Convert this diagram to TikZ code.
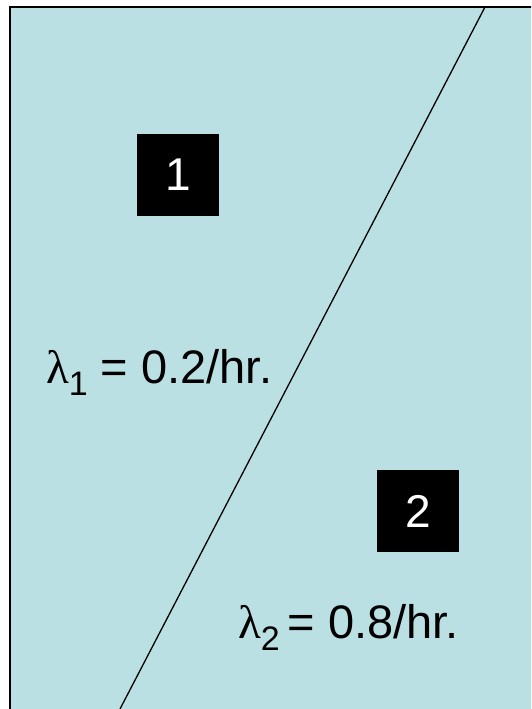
\documentclass[tikz,border=0pt]{standalone}
\usepackage{fontspec}
\setmainfont{Liberation Sans}
\newfontfamily\lamfont{Liberation Serif}
\definecolor{paneback}{RGB}{187,224,227}
\tikzset{
  numbox/.style={fill=black, text=white, minimum width=82pt, minimum height=82pt, inner sep=0pt, font=\fontsize{46}{46}\selectfont},
  ratelabel/.style={anchor=base west, inner sep=0pt, font=\fontsize{47}{47}\selectfont}
}
\begin{document}
\begin{tikzpicture}[x=1pt,y=-1pt]
\useasboundingbox (0,0) rectangle (531,709);
\clip (0,0) rectangle (531,709);
\fill[white] (0,0) rectangle (531,709);
\draw[line width=2pt, fill=paneback] (10,7) rectangle (545,725);
\coordinate (lt) at (485,7);
\coordinate (lb) at (120,709);
\draw[line width=1.3pt] (lt) -- (lb);
\node[numbox] (b1) at (178,175) {1};
\node[numbox] (b2) at (418,511) {2};
\node[ratelabel] (r1) at (46,383) {{\lamfont λ}\raisebox{-12pt}{\fontsize{34}{34}\selectfont 1} = 0.2/hr.};
\node[ratelabel] (r2) at (238,638) {{\lamfont λ}\raisebox{-12pt}{\fontsize{34}{34}\selectfont 2}\,= 0.8/hr.};
\end{tikzpicture}
\end{document}
